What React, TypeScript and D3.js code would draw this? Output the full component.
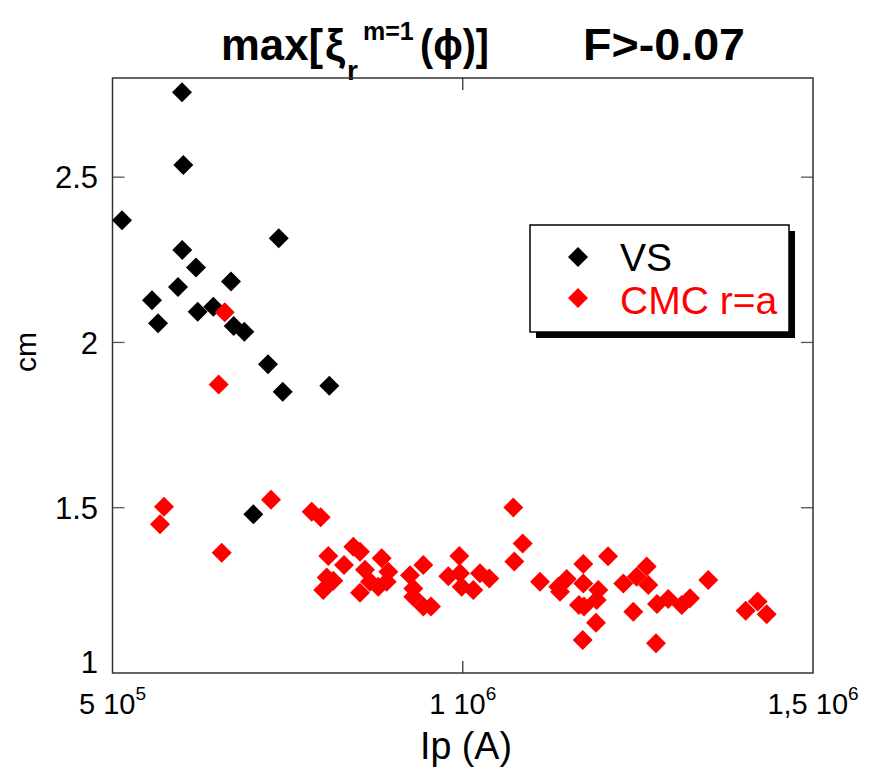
import React from "react";
import * as d3 from "d3";

const vsIp = [513600, 599200, 601100, 599600, 619200, 593500, 669200, 556400, 565000, 621600, 643900, 673000, 688200, 737300, 722000, 743000, 809500, 701000];
const vsXi = [2.370, 2.757, 2.537, 2.280, 2.227, 2.168, 2.184, 2.128, 2.058, 2.093, 2.108, 2.050, 2.032, 2.315, 1.934, 1.851, 1.869, 1.480];

const cmcIp = [573500, 567800, 655900, 726300, 660200, 651600, 784400, 797200, 808100, 830500, 843800, 853300, 884300, 805800, 800900, 815200, 853300, 860500, 867600, 879400, 893700, 891400, 924700, 943700, 929400, 929400, 943700, 954700, 979400, 995100, 996100, 998500, 1015100, 1024600, 1037900, 1072200, 1085600, 1073600, 1110300, 1136400, 1148400, 1138800, 1172100, 1172100, 1193500, 1191200, 1165900, 1173100, 1190200, 1171200, 1207400, 1229200, 1248300, 1262600, 1264900, 1243500, 1277300, 1293400, 1312600, 1324400, 1350500, 1275900, 1403900, 1421000, 1433900];
const cmcXi = [1.503, 1.450, 1.364, 1.524, 2.091, 1.873, 1.488, 1.471, 1.354, 1.327, 1.382, 1.367, 1.347, 1.289, 1.251, 1.279, 1.243, 1.312, 1.276, 1.261, 1.306, 1.276, 1.296, 1.327, 1.256, 1.231, 1.201, 1.201, 1.293, 1.354, 1.302, 1.261, 1.251, 1.302, 1.286, 1.501, 1.392, 1.337, 1.276, 1.261, 1.284, 1.246, 1.330, 1.271, 1.251, 1.221, 1.206, 1.201, 1.152, 1.100, 1.353, 1.271, 1.291, 1.322, 1.266, 1.185, 1.209, 1.224, 1.206, 1.226, 1.281, 1.090, 1.188, 1.216, 1.178];

const xTicks = [500000, 1000000, 1500000];
const xTickMain = ["5 10", "1 10", "1,5 10"];
const xTickExp = ["5", "6", "6"];
const yTicks = [1, 1.5, 2, 2.5];
const yTickLabels = ["1", "1.5", "2", "2.5"];

const seriesNames = ["VS", "CMC r=a"];
const seriesColors = ["#000000", "#ff0000"];

const FONT = "'Liberation Sans', Arial, Helvetica, sans-serif";

export default function App() {
  const W = 870, H = 771;
  const left = 112.5, right = 813, top = 78, bottom = 673;
  const x = d3.scaleLinear().domain([500000, 1500000]).range([left, right]);
  const y = d3.scaleLinear().domain([1, 2.8]).range([bottom, top]);
  const diamond = d3.symbol().type(d3.symbolSquare).size(200)() as string;
  const tickLen = 12;

  const vs = vsIp.map((v, i) => [v, vsXi[i]]);
  const cmc = cmcIp.map((v, i) => [v, cmcXi[i]]);

  return (
    <svg width={W} height={H} style={{ position: "absolute", left: 0, top: 0, display: "block", background: "#fff" }} fontFamily={FONT}>
      <rect x={0} y={0} width={W} height={H} fill="#fff" />
      {/* title */}
      <g fontWeight="bold" fill="#000">
        <text x={221} y={60} fontSize={45} textLength={102} lengthAdjust="spacingAndGlyphs">max[</text>
        <text x={325} y={60} fontSize={45}>ξ</text>
        <text x={347} y={80} fontSize={28}>r</text>
        <text x={363} y={40} fontSize={25}>m=1</text>
        <text x={420} y={60} fontSize={45} textLength={69} lengthAdjust="spacingAndGlyphs">(ϕ)]</text>
        <text x={583} y={60} fontSize={45} textLength={162} lengthAdjust="spacingAndGlyphs">F&gt;-0.07</text>
      </g>

      {/* ticks */}
      {xTicks.slice(1, -1).map((t) => (
        <g key={"xt" + t} stroke="#333" strokeWidth={1.3}>
          <line x1={x(t)} x2={x(t)} y1={bottom} y2={bottom - tickLen} />
          <line x1={x(t)} x2={x(t)} y1={top} y2={top + tickLen} />
        </g>
      ))}
      {yTicks.slice(1).map((t) => (
        <g key={"yt" + t} stroke="#555" strokeWidth={1.3}>
          <line x1={left} x2={left + tickLen} y1={y(t)} y2={y(t)} />
          <line x1={right} x2={right - tickLen} y1={y(t)} y2={y(t)} />
        </g>
      ))}

      {/* frame */}
      <rect x={left} y={top} width={right - left} height={bottom - top} fill="none" stroke="#333" strokeWidth={1.5} />

      {/* points */}
      {vs.map((d, i) => (
        <path key={"v" + i} d={diamond} fill={seriesColors[0]} transform={`translate(${x(d[0])},${y(d[1])}) rotate(45)`} />
      ))}
      {cmc.map((d, i) => (
        <path key={"c" + i} d={diamond} fill={seriesColors[1]} transform={`translate(${x(d[0])},${y(d[1])}) rotate(45)`} />
      ))}

      {/* y tick labels */}
      {yTicks.map((t, i) => (
        <text key={"yl" + t} x={98} y={y(t) + (t === 1 ? -11 : 0)} dy="0.36em" textAnchor="end" fontSize={31} fill="#000">
          {yTickLabels[i]}
        </text>
      ))}

      {/* x tick labels */}
      {xTicks.map((t, i) => (
        <text key={"xl" + t} x={x(t)} y={714} textAnchor="middle" fontSize={29} fill="#000">
          {xTickMain[i]}
          <tspan fontSize={19} dy={-14}>{xTickExp[i]}</tspan>
        </text>
      ))}

      {/* axis labels */}
      <text x={466} y={759} textAnchor="middle" fontSize={38} textLength={92} lengthAdjust="spacingAndGlyphs" fill="#000">Ip (A)</text>
      <text transform="translate(36,352) rotate(-90)" textAnchor="middle" fontSize={30} fill="#000">cm</text>

      {/* legend */}
      <rect x={536} y={231} width={259} height={107} fill="#000" />
      <rect x={530} y={225} width={259} height={107} fill="#fff" stroke="#000" strokeWidth={1.5} />
      {seriesNames.map((n, i) => (
        <g key={n}>
          <path d={diamond} fill={seriesColors[i]} transform={`translate(578,${257 + i * 41}) rotate(45)`} />
          <text x={620} y={271 + i * 43} fontSize={39} fill={seriesColors[i]}>{n}</text>
        </g>
      ))}
    </svg>
  );
}
